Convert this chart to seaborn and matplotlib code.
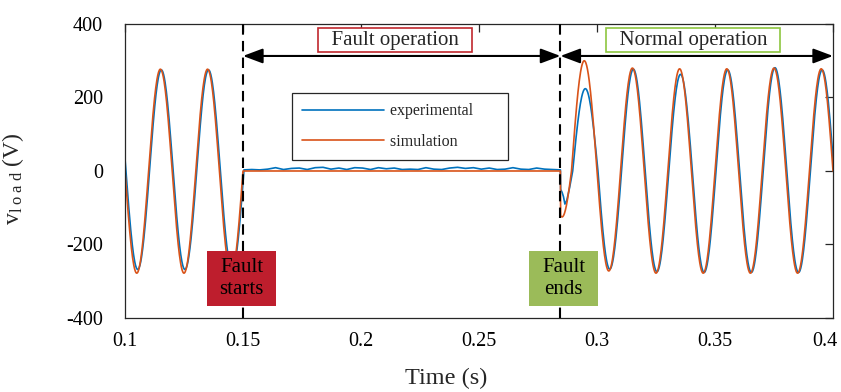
import numpy as np
import pandas as pd
import matplotlib
matplotlib.use("Agg")
import matplotlib.pyplot as plt
import matplotlib.transforms as mtransforms
import seaborn as sns
from matplotlib.patches import Rectangle

# ---------------- data ----------------
# Each sinusoidal stretch is given as half-cycle boundaries (zero crossings, s)
# and the extreme value (V) reached in that half-cycle.
sim_pre_bounds = [0.100, 0.110, 0.120, 0.130, 0.140, 0.150]
sim_pre_peaks = [-278, 277, -278, 277, -278]
sim_fault_t = [0.150, 0.2845]
sim_fault_v = [0.0, 0.0]
sim_dip_bounds = [0.2812, 0.2892]
sim_dip_peaks = [-125]
sim_post_bounds = [0.2892, 0.300, 0.310, 0.320, 0.330, 0.340, 0.350,
                   0.360, 0.370, 0.380, 0.390, 0.400]
sim_post_peaks = [300, -272, 280, -278, 278, -278, 278, -278, 280, -278, 278]

exp_pre_bounds = [0.0904, 0.1004, 0.1104, 0.1204, 0.1304, 0.1404, 0.1504]
exp_pre_peaks = [275, -268, 275, -268, 275, -268]
exp_fault_v = [3, 4, 3, 5, 9, 4, 7, 8, 4, 9, 10, 5, 8, 4, 9, 8, 4, 9, 6, 8,
               4, 5, 4, 9, 5, 4, 8, 10, 7, 9, 5, 8, 4, 5, 9, 5, 4, 8, 5, 4, 3]
exp_fault_span = [0.1504, 0.2845]
exp_trans_t = [0.2846, 0.2852, 0.2858, 0.2864, 0.2872, 0.2884, 0.2897]
exp_trans_v = [-50, -58, -70, -90, -80, -45, 0]
exp_post_bounds = [0.2897, 0.3004, 0.3104, 0.3204, 0.3304, 0.3404, 0.3504,
                   0.3604, 0.3704, 0.3804, 0.3904, 0.4004]
exp_post_peaks = [224, -267, 277, -274, 263, -276, 275, -276, 281, -276, 275]

fault_start, fault_end = 0.150, 0.2845
x_ticks = [0.1, 0.15, 0.2, 0.25, 0.3, 0.35, 0.4]
x_tick_labels = ["0.1", "0.15", "0.2", "0.25", "0.3", "0.35", "0.4"]
y_ticks = [-400, -200, 0, 200, 400]
series_names = ["experimental", "simulation"]
colors = {"experimental": "#0072BD", "simulation": "#D95319"}


def half_cycles(bounds, peaks, n=60):
    ts, vs = [], []
    for a, b, p in zip(bounds[:-1], bounds[1:], peaks):
        u = np.linspace(0.0, 1.0, n)
        ts.append(a + (b - a) * u)
        vs.append(p * np.sin(np.pi * u))
    return np.concatenate(ts), np.concatenate(vs)


# simulation trace
t1, v1 = half_cycles(sim_pre_bounds, sim_pre_peaks)
t2, v2 = np.array(sim_fault_t), np.array(sim_fault_v)
t3, v3 = half_cycles(sim_dip_bounds, sim_dip_peaks)
keep = t3 >= fault_end
t3, v3 = t3[keep], v3[keep]
t4, v4 = half_cycles(sim_post_bounds, sim_post_peaks)
sim_t = np.concatenate([t1, t2, t3, t4])
sim_v = np.concatenate([v1, v2, v3, v4])

# experimental trace
e1, w1 = half_cycles(exp_pre_bounds, exp_pre_peaks)
e2 = np.linspace(exp_fault_span[0], exp_fault_span[1], len(exp_fault_v))
w2 = np.array(exp_fault_v, dtype=float)
e3, w3 = np.array(exp_trans_t), np.array(exp_trans_v, dtype=float)
e4, w4 = half_cycles(exp_post_bounds, exp_post_peaks)
exp_t = np.concatenate([e1, e2, e3, e4])
exp_v = np.concatenate([w1, w2, w3, w4])

df = pd.concat([
    pd.DataFrame({"t": exp_t, "v": exp_v, "series": "experimental"}),
    pd.DataFrame({"t": sim_t, "v": sim_v, "series": "simulation"}),
], ignore_index=True)

# ---------------- style ----------------
sns.set_theme(style="white")
plt.rcParams["font.family"] = ["Liberation Serif", "DejaVu Serif"]
plt.rcParams["mathtext.fontset"] = "custom"
plt.rcParams["mathtext.rm"] = "Liberation Serif"
plt.rcParams["mathtext.it"] = "Liberation Serif:italic"
plt.rcParams["axes.unicode_minus"] = False

fig = plt.figure(figsize=(8.41, 3.92), dpi=100)
ax = fig.add_axes([0.1486, 0.1888, 0.8419, 0.75])

sns.lineplot(data=df, x="t", y="v", hue="series", hue_order=series_names,
             palette=colors, sort=False, estimator=None, linewidth=1.2, ax=ax)

ax.set_xlim(0.1, 0.4)
ax.set_ylim(-400, 400)
ax.set_xticks(x_ticks)
ax.set_xticklabels(x_tick_labels)
ax.set_yticks(y_ticks)
ax.tick_params(direction="in", length=6, width=0.9, colors="#262626",
               labelcolor="black", labelsize=14.5, top=True, right=True)
ax.tick_params(axis="y", pad=16)
ax.tick_params(axis="x", pad=10)
for s in ax.spines.values():
    s.set_visible(True)
    s.set_color("#262626")
    s.set_linewidth(0.9)

# keep the last x tick label inside the picture, as in the reference
last = ax.get_xticklabels()[-1]
last.set_transform(last.get_transform() +
                   mtransforms.ScaledTranslation(-6 / 72, 0, fig.dpi_scale_trans))

ax.set_xlabel("Time (s)", fontsize=17.5, labelpad=10)
ax.xaxis.set_label_coords(0.453, -0.17)
ax.set_ylabel(r"v$_{\mathregular{l\ o\ a\ d}}$ (V)", fontsize=17, labelpad=14)
ax.yaxis.set_label_coords(-0.14, 0.475)

# dashed fault boundaries
for xv in (fault_start, fault_end):
    ax.axvline(xv, color="black", lw=1.5, ls=(0, (5, 3)), zorder=3)

# double arrows
arrow_y = 313
arr = dict(arrowstyle="<|-|>,head_length=0.8,head_width=0.3", color="black",
           lw=1.5, mutation_scale=15, shrinkA=0, shrinkB=0)
ax.annotate("", xy=(fault_start, arrow_y), xytext=(fault_end, arrow_y), arrowprops=arr)
ax.annotate("", xy=(fault_end, arrow_y), xytext=(0.4, arrow_y), arrowprops=arr)

ax.text(0.2144, 356, "  Fault operation  ", ha="center", va="center", fontsize=15,
        bbox=dict(boxstyle="square,pad=0.12", fc="white", ec="#C0282D", lw=1.2), zorder=5)
ax.text(0.3407, 356, "  Normal operation  ", ha="center", va="center", fontsize=15,
        bbox=dict(boxstyle="square,pad=0.12", fc="white", ec="#8DC63F", lw=1.2), zorder=5)

# filled event boxes
for x0, col, label in ((0.13475, "#BE1E2D", "Fault\nstarts"),
                       (0.2712, "#9BBB59", "Fault\nends")):
    ax.add_patch(Rectangle((x0, -367), 0.0292, 149, facecolor=col,
                           edgecolor="none", zorder=6))
    ax.text(x0 + 0.0146, -293, label, ha="center", va="center", fontsize=15,
            linespacing=1.25, color="black", zorder=7)

handles, labels = ax.get_legend_handles_labels()
leg = ax.legend(handles, [l + "\u00a0" * 6 for l in labels],
                loc="upper left", bbox_to_anchor=(0.236, 0.765), borderaxespad=0,
                fontsize=11.5, frameon=True, fancybox=False, framealpha=1,
                edgecolor="#262626", handlelength=5.1, handletextpad=0.4,
                labelspacing=0.9, borderpad=0.65)
leg.get_frame().set_linewidth(0.9)
leg.set_zorder(8)

fig.savefig("out.png", dpi=100)
